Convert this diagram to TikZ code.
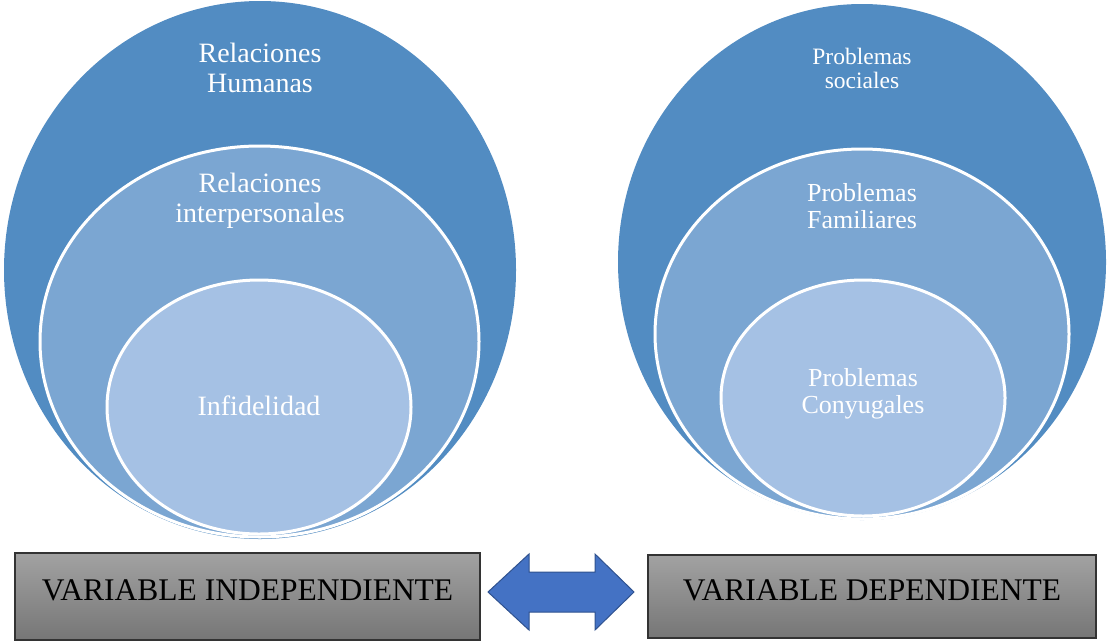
\documentclass[tikz,border=0pt]{standalone}
\usepackage{fontspec}
\setmainfont{Liberation Serif}
\usetikzlibrary{positioning}

\definecolor{outerblue}{RGB}{82,140,194}
\definecolor{midblue}{RGB}{123,166,210}
\definecolor{innerblue}{RGB}{165,193,228}
\definecolor{arrowblue}{RGB}{68,114,196}
\definecolor{arrowedge}{RGB}{47,82,143}
\definecolor{boxtop}{RGB}{162,162,162}
\definecolor{boxbottom}{RGB}{118,118,118}

\begin{document}
\begin{tikzpicture}[x=1pt, y=-1pt,
    ring/.style={draw=white, line width=3pt},
    ringtext/.style={text=white, align=center, font=\fontsize{28}{30}\selectfont},
    varbox/.style={draw=black!80, line width=1.2pt, top color=boxtop, bottom color=boxbottom,
        font=\fontsize{31.5}{34}\selectfont, text depth=12pt}]
    \useasboundingbox (0,0) rectangle (1107,641);

    % Variable independiente
    \fill[outerblue] (260,270) ellipse (256pt and 269pt);
    \draw[ring, fill=midblue] (259.5,341.5) ellipse (219.5pt and 195.5pt);
    \draw[ring, fill=innerblue] (259,407) ellipse (152pt and 127pt);
    \node[ringtext] (humanas) at (260,68) {Relaciones\\Humanas};
    \node[ringtext] (interper) at (260,201) {Relaciones\\interpersonales};
    \node[ringtext] (infidel) at (259,406) {Infidelidad};

    % Variable dependiente
    \fill[outerblue] (862,262) ellipse (244pt and 258pt);
    \draw[ring, fill=midblue] (862,334) ellipse (207pt and 185pt);
    \draw[ring, fill=innerblue] (863,398) ellipse (142pt and 118pt);
    \node[ringtext, font=\fontsize{23.5}{24}\selectfont] (sociales) at (862,68) {Problemas\\sociales};
    \node[ringtext, font=\fontsize{26}{27}\selectfont] (familia) at (862,206) {Problemas\\Familiares};
    \node[ringtext, font=\fontsize{26}{27}\selectfont] (conyuge) at (863,394) {Problemas\\Conyugales};

    \node[varbox, minimum width=465pt, minimum height=87pt] (indep) at (247.5,596.5) {VARIABLE INDEPENDIENTE};
    \node[varbox, minimum width=448pt, minimum height=83pt] (dep) at (872,596.5) {VARIABLE DEPENDIENTE};

    % double arrow between the boxes
    \begin{scope}[shift={(561,592)}]
        \filldraw[fill=arrowblue, draw=arrowedge, line width=1pt]
            (-73,0) -- (-32,-38) -- (-32,-20) -- (34,-20) -- (34,-38) -- (73,0)
            -- (34,38) -- (34,20) -- (-32,20) -- (-32,38) -- cycle;
    \end{scope}
\end{tikzpicture}
\end{document}
